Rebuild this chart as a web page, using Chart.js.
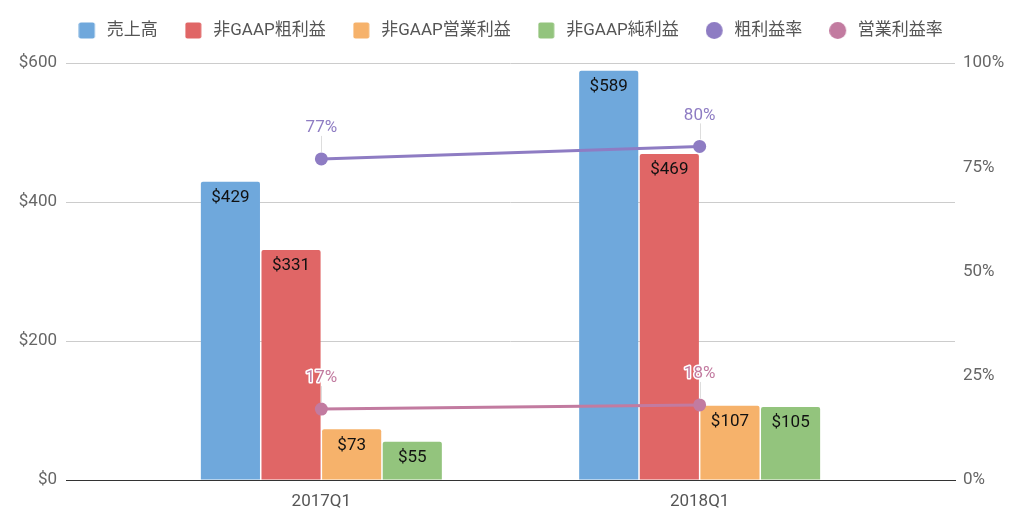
<!DOCTYPE html>
<html>
<head>
<meta charset="utf-8">
<script src="https://cdn.jsdelivr.net/npm/chart.js@4/dist/chart.umd.min.js"></script>
<style>
  html, body { margin: 0; padding: 0; background: #fff; }
</style>
</head>
<body>
<canvas id="chart" width="1024" height="525"></canvas>
<script>
// chart data
const quarters = ['2017Q1', '2018Q1'];
const revenue = [429, 589];
const grossProfit = [331, 469];
const operatingProfit = [73, 107];
const netProfit = [55, 105];
const grossMargin = [0.77, 0.80];
const operatingMargin = [0.17, 0.18];
const dollarTicks = [0, 200, 400, 600];
const percentTicks = [0, 0.25, 0.5, 0.75, 1];

const FONT = 'Roboto, "Noto Sans CJK JP", sans-serif';
Chart.defaults.font.family = FONT;

// small canvas swatches for the legend (squares for bars, dots for lines)
// the mark sits in the left part so the gap to the text is a bit wider
function swatch(color, round) {
    const c = document.createElement('canvas');
    c.width = 23; c.height = 17;
    const g = c.getContext('2d');
    g.fillStyle = color;
    g.beginPath();
    if (round) g.arc(8.5, 8.5, 8.5, 0, Math.PI * 2);
    else g.roundRect(0.5, 0.5, 16, 16, 2);
    g.fill();
    return c;
}

function barSet(label, data, color) {
    return {
        label: label,
        data: data,
        backgroundColor: color,
        borderWidth: 0,
        borderRadius: { topLeft: 2, topRight: 2 },
        borderSkipped: 'bottom',
        categoryPercentage: 0.641,
        barPercentage: 0.975,
        yAxisID: 'y',
        order: 1
    };
}

function lineSet(label, data, color) {
    return {
        type: 'line',
        label: label,
        data: data,
        borderColor: color,
        backgroundColor: color,
        borderWidth: 3,
        pointRadius: 6.5,
        pointBorderWidth: 0,
        pointBackgroundColor: color,
        yAxisID: 'y1',
        order: 0
    };
}

// draws the value labels on bars and line points
const valueLabels = {
    id: 'valueLabels',
    afterDatasetsDraw(chart) {
        const ctx = chart.ctx;
        ctx.save();
        ctx.textAlign = 'center';
        ctx.textBaseline = 'middle';
        chart.data.datasets.forEach((ds, i) => {
            const meta = chart.getDatasetMeta(i);
            meta.data.forEach((el, j) => {
                const v = ds.data[j];
                if (ds.type === 'line') {
                    ctx.strokeStyle = '#ddd';
                    ctx.lineWidth = 1;
                    ctx.beginPath();
                    ctx.moveTo(Math.round(el.x) + 0.5, el.y - 7);
                    ctx.lineTo(Math.round(el.x) + 0.5, el.y - 23);
                    ctx.stroke();
                    const txt = Math.round(v * 100) + '%';
                    ctx.font = '17px ' + FONT;
                    ctx.lineWidth = 3;
                    ctx.lineJoin = 'round';
                    ctx.strokeStyle = '#fff';
                    ctx.strokeText(txt, el.x, el.y - 31);
                    ctx.fillStyle = ds.borderColor;
                    ctx.fillText(txt, el.x, el.y - 31);
                } else {
                    ctx.font = '17px ' + FONT;
                    ctx.fillStyle = '#111';
                    ctx.fillText('$' + v, el.x, el.y + 16);
                }
            });
        });
        ctx.restore();
    }
};

// give the legend a fixed height so the plot starts where it should
const legendSpace = {
    id: 'legendSpace',
    beforeInit(chart) {
        if (!chart.legend) return;
        const fit = chart.legend.fit;
        chart.legend.fit = function() {
            fit.call(this);
            this.height = 71;
        };
    }
};

const ctx = document.getElementById('chart').getContext('2d');
const chart = new Chart(ctx, {
    type: 'bar',
    data: {
        labels: quarters,
        datasets: [
            barSet('売上高', revenue, '#6FA8DC'),
            barSet('非GAAP粗利益', grossProfit, '#E06666'),
            barSet('非GAAP営業利益', operatingProfit, '#F6B26B'),
            barSet('非GAAP純利益', netProfit, '#93C47D'),
            lineSet('粗利益率', grossMargin, '#8E7CC3'),
            lineSet('営業利益率', operatingMargin, '#C27BA0')
        ]
    },
    options: {
        responsive: false,
        animation: false,
        layout: { padding: { top: -8, left: 0, right: 0, bottom: 0 } },
        plugins: {
            tooltip: { enabled: false },
            legend: {
                position: 'top',
                labels: {
                    usePointStyle: true,
                    boxWidth: 17,
                    boxHeight: 17,
                    padding: 30,
                    color: '#555',
                    font: { size: 17 },
                    sort: (a, b) => a.datasetIndex - b.datasetIndex,
                    generateLabels(chart) {
                        const items = Chart.defaults.plugins.legend.labels.generateLabels(chart);
                        items.forEach(item => {
                            const ds = chart.data.datasets[item.datasetIndex];
                            const color = ds.type === 'line' ? ds.borderColor : ds.backgroundColor;
                            item.pointStyle = swatch(color, ds.type === 'line');
                        });
                        return items;
                    }
                }
            }
        },
        scales: {
            x: {
                grid: { display: false },
                border: { color: '#333' },
                ticks: { color: '#555', font: { size: 17 }, padding: 4 },
                afterBuildTicks(s) {
                    s._startValue = -0.675;
                    s._valueRange = 2.35;
                },
                afterFit(s) { s.height = 45; }
            },
            y: {
                position: 'left',
                min: 0,
                max: 600,
                border: { display: false },
                grid: {
                    drawTicks: false,
                    color: c => (c.tick && c.tick.value === 0 ? '#333' : '#ccc')
                },
                ticks: {
                    color: '#666',
                    font: { size: 17 },
                    padding: 9,
                    callback: v => '$' + v
                },
                afterBuildTicks(s) { s.ticks = dollarTicks.map(v => ({ value: v })); },
                afterFit(s) { s.width = 66; }
            },
            y1: {
                position: 'right',
                min: 0,
                max: 1,
                border: { display: false },
                grid: { display: false, drawTicks: false },
                ticks: {
                    color: '#666',
                    font: { size: 17 },
                    padding: 8,
                    callback: v => Math.round(v * 100) + '%'
                },
                afterBuildTicks(s) { s.ticks = percentTicks.map(v => ({ value: v })); },
                afterFit(s) { s.width = 69; }
            }
        }
    },
    plugins: [valueLabels, legendSpace]
});
</script>
</body>
</html>
